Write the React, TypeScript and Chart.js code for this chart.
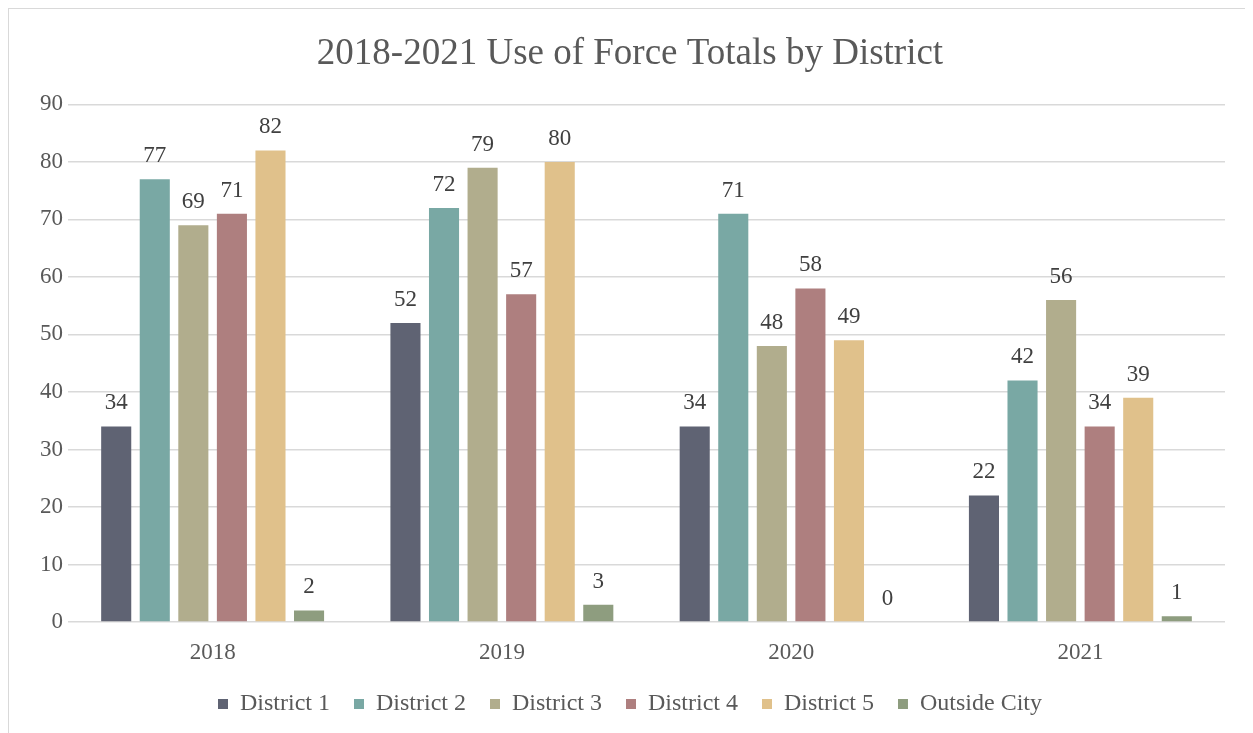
import React, { useEffect, useRef } from "react";
import { Chart, registerables } from "chart.js";

Chart.register(...registerables);

const titleText = "2018-2021 Use of Force Totals by District";
const categories = ["2018", "2019", "2020", "2021"];
const seriesNames = ["District 1", "District 2", "District 3", "District 4", "District 5", "Outside City"];
const district1 = [34, 52, 34, 22];
const district2 = [77, 72, 71, 42];
const district3 = [69, 79, 48, 56];
const district4 = [71, 57, 58, 34];
const district5 = [82, 80, 49, 39];
const outsideCity = [2, 3, 0, 1];
const yMin = 0;
const yMax = 90;
const yStep = 10;
const seriesColors = ["#5f6373", "#79a8a4", "#b1ad8d", "#ae7f7f", "#e0c18b", "#8e9d7f"];

const FONT = "'Liberation Serif', 'Times New Roman', serif";

const valueLabels = {
  id: "valueLabels",
  afterDatasetsDraw(chart: any) {
    const ctx = chart.ctx;
    ctx.save();
    ctx.font = `23px ${FONT}`;
    ctx.fillStyle = "#404040";
    ctx.textAlign = "center";
    ctx.textBaseline = "alphabetic";
    chart.data.datasets.forEach((ds: any, i: number) => {
      const meta = chart.getDatasetMeta(i);
      meta.data.forEach((bar: any, j: number) => {
        ctx.fillText(String(ds.data[j]), bar.x, bar.y - 17);
      });
    });
    ctx.restore();
  },
};

export default function App() {
  const canvasRef = useRef<HTMLCanvasElement | null>(null);

  useEffect(() => {
    if (!canvasRef.current) return;
    const allSeries = [district1, district2, district3, district4, district5, outsideCity];
    const chart = new Chart(canvasRef.current, {
      type: "bar",
      data: {
        labels: categories,
        datasets: allSeries.map((vals, i) => ({
          label: seriesNames[i],
          data: vals,
          backgroundColor: seriesColors[i],
          borderWidth: 0,
          barPercentage: 0.78,
          categoryPercentage: 0.8,
        })),
      },
      options: {
        responsive: false,
        animation: false,
        layout: { padding: { left: 26, right: 28, top: 0, bottom: 7 } },
        plugins: {
          title: {
            display: true,
            text: titleText,
            color: "#595959",
            font: { family: FONT, size: 37, weight: "normal" },
            padding: { top: 23, bottom: 28 },
          },
          legend: {
            position: "bottom",
            labels: {
              color: "#595959",
              font: { family: FONT, size: 24 },
              boxWidth: 10,
              boxHeight: 10,
              padding: 24,
            },
          },
          tooltip: { enabled: false },
        },
        scales: {
          x: {
            grid: { display: false },
            border: { display: false },
            ticks: { color: "#595959", font: { family: FONT, size: 23 }, padding: 9 },
            afterFit: (scale: any) => {
              scale.height = 46;
            },
          },
          y: {
            min: yMin,
            max: yMax,
            ticks: {
              stepSize: yStep,
              color: "#595959",
              font: { family: FONT, size: 23 },
              padding: 5,
            },
            grid: { color: "#d9d9d9", lineWidth: 1.5, drawTicks: false },
            border: { display: false },
          },
        },
      },
      plugins: [valueLabels],
    });
    return () => chart.destroy();
  }, []);

  return (
    <div
      style={{
        width: 1244,
        height: 724,
        borderTop: "1px solid #d9d9d9",
        borderLeft: "1px solid #d9d9d9",
        background: "#ffffff",
        overflow: "hidden",
      }}
    >
      <canvas ref={canvasRef} width={1244} height={724} style={{ display: "block" }} />
    </div>
  );
}
